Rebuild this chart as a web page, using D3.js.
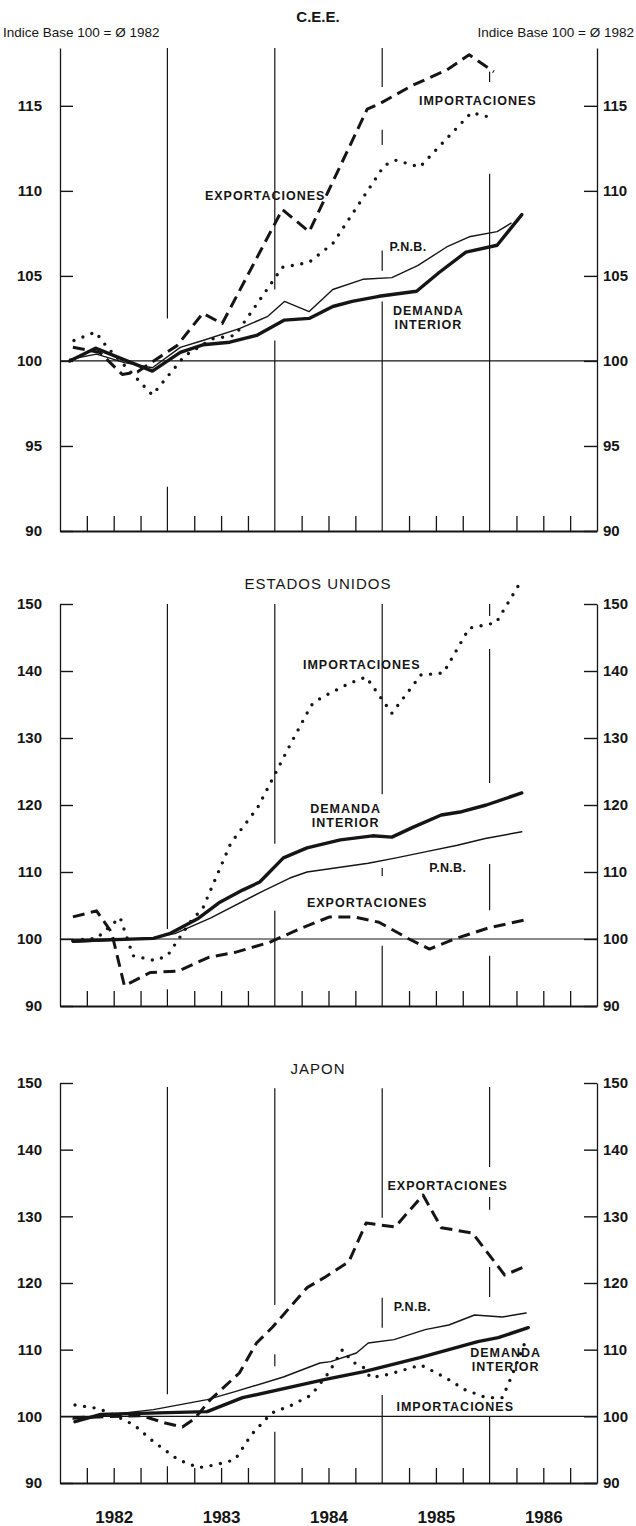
<!DOCTYPE html>
<html>
<head>
<meta charset="utf-8">
<script src="https://cdn.jsdelivr.net/npm/d3@7"></script>
<style>
  body { margin: 0; background: #fff; }
  svg { display: block; font-family: "Liberation Sans", Arial, sans-serif; }
</style>
</head>
<body>
<svg id="chart" width="636" height="1526"></svg>
<script>
// ---- data (time in decimal years, index base 100 = average 1982) ----
var years = ["1982", "1983", "1984", "1985", "1986"];
var ticksCee = [90, 95, 100, 105, 110, 115];
var ticksWide = [90, 100, 110, 120, 130, 140, 150];

// C.E.E.
var ceeExpT = [1982.12, 1982.37, 1982.58, 1982.72, 1982.86, 1983.09, 1983.33, 1983.51, 1984.07, 1984.32, 1984.86, 1984.97, 1985.28, 1985.60, 1985.81, 1986.04];
var ceeExpV = [100.8, 100.5, 99.2, 99.35, 99.95, 100.9, 102.8, 102.2, 108.9, 107.6, 114.8, 115.1, 116.2, 117.1, 118.0, 117.0];
var ceeImpT = [1982.13, 1982.33, 1982.44, 1982.86, 1983.16, 1983.42, 1983.63, 1984.07, 1984.32, 1984.54, 1985.02, 1985.13, 1985.35, 1985.83, 1986.02];
var ceeImpV = [101.2, 101.7, 100.8, 98.0, 100.3, 101.3, 101.5, 105.5, 105.8, 106.9, 111.5, 111.8, 111.4, 114.6, 114.3];
var ceePnbT = [1982.09, 1982.34, 1982.60, 1982.86, 1983.12, 1983.33, 1983.67, 1983.93, 1984.09, 1984.32, 1984.54, 1984.82, 1985.09, 1985.33, 1985.60, 1985.81, 1986.07, 1986.20];
var ceePnbV = [100.1, 100.4, 99.9, 99.6, 100.8, 101.2, 101.9, 102.6, 103.5, 102.9, 104.2, 104.8, 104.9, 105.6, 106.7, 107.3, 107.6, 108.1];
var ceeDemT = [1982.09, 1982.33, 1982.86, 1983.12, 1983.33, 1983.58, 1983.83, 1984.09, 1984.32, 1984.54, 1984.72, 1984.97, 1985.32, 1985.53, 1985.78, 1986.07, 1986.30];
var ceeDemV = [100.0, 100.75, 99.4, 100.5, 100.95, 101.1, 101.5, 102.4, 102.5, 103.2, 103.5, 103.8, 104.1, 105.2, 106.4, 106.8, 108.6];

// ESTADOS UNIDOS
var usExpT = [1982.12, 1982.34, 1982.48, 1982.60, 1982.84, 1983.10, 1983.39, 1983.63, 1983.95, 1984.23, 1984.51, 1984.74, 1984.97, 1985.25, 1985.44, 1985.67, 1986.00, 1986.32];
var usExpV = [103.3, 104.2, 101.0, 93.0, 95.0, 95.2, 97.3, 98.0, 99.5, 101.5, 103.3, 103.3, 102.5, 100.0, 98.5, 100.0, 101.7, 102.8];
var usImpT = [1982.12, 1982.34, 1982.56, 1982.68, 1982.88, 1983.00, 1983.21, 1983.33, 1983.59, 1983.84, 1984.14, 1984.34, 1984.43, 1984.70, 1984.85, 1985.09, 1985.36, 1985.57, 1985.81, 1986.06, 1986.30];
var usImpV = [99.8, 100.1, 103.2, 97.5, 96.8, 97.5, 102.5, 104.6, 114.3, 119.6, 128.9, 134.9, 136.0, 138.2, 139.1, 133.7, 139.4, 139.7, 146.4, 147.2, 153.6];
var usPnbT = [1982.12, 1982.62, 1982.87, 1983.07, 1983.40, 1983.87, 1984.14, 1984.30, 1984.87, 1985.13, 1985.40, 1985.70, 1985.96, 1986.30];
var usPnbV = [99.5, 99.9, 100.2, 100.8, 103.1, 107.0, 109.1, 110.0, 111.3, 112.1, 113.0, 114.0, 115.0, 116.0];
var usDemT = [1982.12, 1982.87, 1983.02, 1983.29, 1983.48, 1983.70, 1983.86, 1984.08, 1984.30, 1984.61, 1984.91, 1985.09, 1985.29, 1985.55, 1985.74, 1985.97, 1986.30];
var usDemV = [99.7, 100.1, 100.8, 103.1, 105.4, 107.3, 108.5, 112.1, 113.6, 114.8, 115.4, 115.2, 116.7, 118.5, 119.0, 120.0, 121.8];

// JAPON
var jpExpT = [1982.12, 1982.76, 1982.98, 1983.14, 1983.25, 1983.40, 1983.67, 1983.83, 1983.98, 1984.30, 1984.46, 1984.69, 1984.85, 1985.12, 1985.38, 1985.55, 1985.84, 1986.14, 1986.32];
var jpExpV = [99.8, 100.1, 99.0, 98.4, 99.6, 102.5, 106.5, 111.0, 113.4, 119.3, 120.8, 123.2, 129.0, 128.4, 133.2, 128.3, 127.5, 121.2, 122.4];
var jpImpT = [1982.14, 1982.31, 1982.44, 1982.69, 1982.87, 1983.10, 1983.29, 1983.44, 1983.63, 1983.78, 1983.97, 1984.16, 1984.34, 1984.50, 1984.63, 1984.72, 1984.83, 1984.89, 1985.06, 1985.36, 1985.59, 1985.77, 1985.97, 1986.12, 1986.21, 1986.34];
var jpImpV = [101.7, 101.3, 100.7, 98.7, 96.2, 93.5, 92.3, 92.7, 93.5, 97.2, 100.5, 101.7, 103.2, 106.5, 110.0, 108.2, 107.3, 105.8, 106.3, 107.7, 105.8, 104.0, 102.8, 102.8, 106.2, 111.5];
var jpPnbT = [1982.12, 1982.38, 1982.87, 1983.37, 1983.63, 1984.08, 1984.42, 1984.52, 1984.76, 1984.87, 1985.11, 1985.40, 1985.62, 1985.86, 1986.12, 1986.34];
var jpPnbV = [99.6, 100.1, 101.0, 102.5, 103.7, 105.9, 108.0, 108.2, 109.5, 111.0, 111.5, 113.0, 113.7, 115.2, 114.9, 115.5];
var jpDemT = [1982.14, 1982.38, 1983.37, 1983.70, 1984.46, 1984.83, 1985.35, 1985.89, 1986.08, 1986.36];
var jpDemV = [99.2, 100.3, 100.7, 102.8, 105.5, 106.7, 108.8, 111.2, 111.8, 113.3];

var ink = "#151515";
var svg = d3.select("#chart");
var x = d3.scaleLinear().domain([1982, 1987]).range([60, 597]);

var styles = {
    imp: { w: 3.4, dash: "0,9.6", cap: "round" },
    exp: { w: 3, dash: "12,6.5", cap: "butt" },
    pnb: { w: 1.4, dash: null, cap: "round" },
    dem: { w: 3.4, dash: null, cap: "round" }
};

var panels = [
    {
        title: "C.E.E.", titleY: 17, domain: [90, 118.4], top: 48, bottom: 531, ticks: ticksCee,
        series: [["imp", ceeImpT, ceeImpV], ["exp", ceeExpT, ceeExpV], ["pnb", ceePnbT, ceePnbV], ["dem", ceeDemT, ceeDemV]],
        labels: [["EXPORTACIONES", 1983.91, 109.7], ["IMPORTACIONES", 1985.89, 115.3], ["P.N.B.", 1985.24, 106.7],
                 ["DEMANDA", 1985.43, 102.95], ["INTERIOR", 1985.43, 102.15]],
        dividers: [[1983, 118.4, 102.5], [1983, 92.6, 90], [1984, 118.4, 104.2], [1984, 101.2, 90],
                   [1985, 118.4, 116.1], [1985, 113.6, 112.7], [1985, 106.5, 105.3], [1985, 103.5, 90],
                   [1986, 117.0, 116.4], [1986, 111.0, 90]]
    },
    {
        title: "ESTADOS UNIDOS", titleY: 584, domain: [90, 150], top: 604, bottom: 1006, ticks: ticksWide,
        series: [["imp", usImpT, usImpV], ["exp", usExpT, usExpV], ["pnb", usPnbT, usPnbV], ["dem", usDemT, usDemV]],
        labels: [["IMPORTACIONES", 1984.81, 141.0], ["DEMANDA", 1984.66, 119.5], ["INTERIOR", 1984.66, 117.3],
                 ["P.N.B.", 1985.61, 110.7], ["EXPORTACIONES", 1984.86, 105.5]],
        dividers: [[1983, 150, 101.5], [1983, 92.5, 90], [1984, 150, 114.2], [1984, 104.2, 90],
                   [1985, 150, 121.6], [1985, 110.6, 109.4], [1985, 99, 90],
                   [1986, 150, 148.2], [1986, 143.3, 123.3], [1986, 111.2, 104.3], [1986, 97.5, 90]]
    },
    {
        title: "JAPON", titleY: 1069, domain: [90, 150], top: 1083, bottom: 1483, ticks: ticksWide,
        series: [["imp", jpImpT, jpImpV], ["exp", jpExpT, jpExpV], ["pnb", jpPnbT, jpPnbV], ["dem", jpDemT, jpDemV]],
        labels: [["EXPORTACIONES", 1985.61, 134.6], ["P.N.B.", 1985.28, 116.4], ["DEMANDA", 1986.15, 109.5],
                 ["INTERIOR", 1986.15, 107.4], ["IMPORTACIONES", 1985.68, 101.4]],
        dividers: [[1983, 149.4, 103.3], [1983, 92.5, 90], [1984, 149.2, 116.7], [1984, 109.3, 107.5], [1984, 97.7, 90],
                   [1985, 149.2, 129.8], [1985, 117.8, 113.3], [1985, 103.2, 90],
                   [1986, 149.4, 137.4], [1986, 132.9, 131], [1986, 122.4, 117.9], [1986, 100, 90]]
    }
];

// "Indice Base" captions
svg.append("text").attr("x", 3).attr("y", 37).attr("font-size", 13.5).attr("fill", ink)
    .text("Indice Base 100 = Ø 1982");
svg.append("text").attr("x", 634).attr("y", 37).attr("font-size", 13.5).attr("fill", ink)
    .attr("text-anchor", "end").text("Indice Base 100 = Ø 1982");

panels.forEach(function (p, pi) {
    var y = d3.scaleLinear().domain(p.domain).range([p.bottom, p.top]);
    var g = svg.append("g");

    g.append("text")
        .attr("x", 318).attr("y", p.titleY).attr("dy", "0.35em")
        .attr("text-anchor", "middle")
        .attr("font-size", 15)
        .attr("font-weight", pi == 0 ? "bold" : "normal")
        .attr("letter-spacing", pi == 0 ? 0 : 1)
        .attr("fill", ink)
        .text(p.title);

    // base 100 line
    g.append("line")
        .attr("x1", x(1982)).attr("x2", x(1987))
        .attr("y1", y(100)).attr("y2", y(100))
        .attr("stroke", ink).attr("stroke-width", 1.2);

    // year dividers, broken where the drawing leaves room
    g.selectAll(".div").data(p.dividers).enter().append("line")
        .attr("x1", function (d) { return x(d[0]); })
        .attr("x2", function (d) { return x(d[0]); })
        .attr("y1", function (d) { return y(d[1]); })
        .attr("y2", function (d) { return y(d[2]); })
        .attr("stroke", ink).attr("stroke-width", 1.2);

    // left and right axes
    var left = g.append("g").attr("transform", "translate(" + x(1982) + ",0)")
        .call(d3.axisLeft(y).tickValues(p.ticks).tickSize(-13).tickSizeOuter(0).tickPadding(18));
    var right = g.append("g").attr("transform", "translate(" + x(1987) + ",0)")
        .call(d3.axisRight(y).tickValues(p.ticks).tickSize(-13).tickSizeOuter(0).tickPadding(6));
    [left, right].forEach(function (a) {
        a.select(".domain").attr("stroke", ink).attr("stroke-width", 1.3);
        a.selectAll(".tick line").attr("stroke", ink).attr("stroke-width", 1.4);
        a.selectAll(".tick text").attr("fill", ink)
            .attr("font-family", "Liberation Sans, Arial, sans-serif")
            .attr("font-size", 15).attr("font-weight", "bold");
    });

    // bottom axis with quarter ticks
    var quarters = [];
    for (var yr = 1982; yr < 1987; yr++) {
        quarters.push(yr + 0.25, yr + 0.5, yr + 0.75);
    }
    var bottom = g.append("g").attr("transform", "translate(0," + y(90) + ")")
        .call(d3.axisBottom(x).tickValues(quarters).tickSize(-15).tickSizeOuter(0).tickFormat(""));
    bottom.select(".domain").attr("stroke", ink).attr("stroke-width", 1.8);
    bottom.selectAll(".tick line").attr("stroke", ink).attr("stroke-width", 1.3);

    if (pi == 2) {
        var yAxis = g.append("g").attr("transform", "translate(0," + y(90) + ")")
            .call(d3.axisBottom(x).tickValues([1982.5, 1983.5, 1984.5, 1985.5, 1986.5])
                .tickSize(0).tickPadding(28)
                .tickFormat(function (d, i) { return years[i]; }));
        yAxis.select(".domain").remove();
        yAxis.selectAll(".tick text").attr("fill", ink)
            .attr("font-family", "Liberation Sans, Arial, sans-serif")
            .attr("font-size", 17).attr("font-weight", "bold");
    }

    // series
    var line = d3.line()
        .x(function (d) { return x(d[0]); })
        .y(function (d) { return y(d[1]); });
    p.series.forEach(function (s) {
        var st = styles[s[0]];
        g.append("path")
            .datum(d3.zip(s[1], s[2]))
            .attr("d", line)
            .attr("fill", "none")
            .attr("stroke", ink)
            .attr("stroke-width", st.w)
            .attr("stroke-dasharray", st.dash)
            .attr("stroke-linecap", st.cap)
            .attr("stroke-linejoin", "round");
    });

    // series labels
    g.selectAll(".lab").data(p.labels).enter().append("text")
        .attr("x", function (d) { return x(d[1]); })
        .attr("y", function (d) { return y(d[2]); })
        .attr("dy", "0.35em")
        .attr("text-anchor", "middle")
        .attr("font-size", 12.5)
        .attr("font-weight", "bold")
        .attr("letter-spacing", function (d) { return d[0] == "P.N.B." ? 0.3 : 1; })
        .attr("fill", ink)
        .text(function (d) { return d[0]; });
});
</script>
</body>
</html>
